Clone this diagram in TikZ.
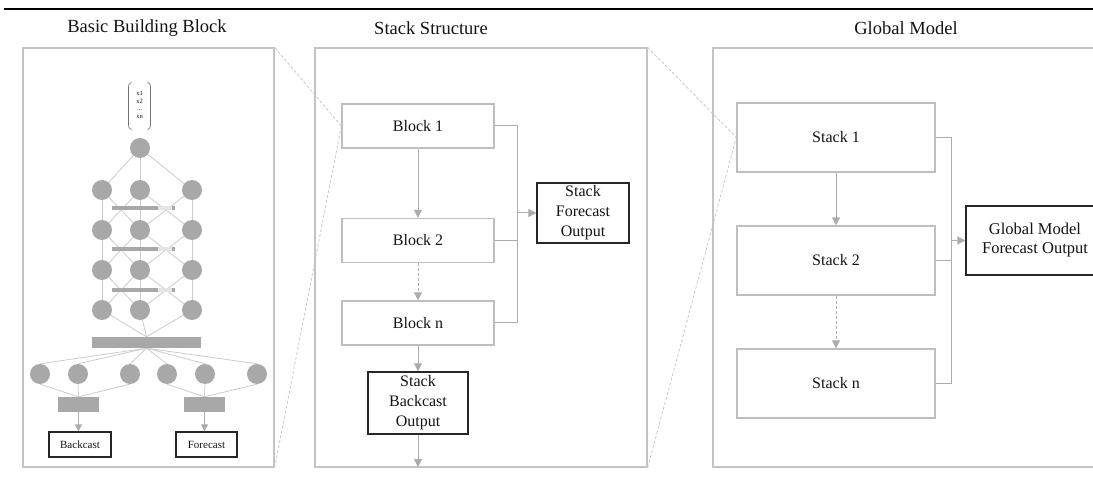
\documentclass[tikz,border=0pt]{standalone}
\usepackage{fontspec}
\setmainfont{Liberation Serif}
\usetikzlibrary{arrows.meta,calc}
\pgfdeclarelayer{back}
\pgfdeclarelayer{bg}
\pgfsetlayers{back,bg,main}
\definecolor{framec}{HTML}{C4C4C4}
\definecolor{boxc}{HTML}{BEBEBE}
\definecolor{arrc}{HTML}{ACACAC}
\definecolor{neuron}{HTML}{A8A8A8}
\definecolor{nnline}{HTML}{CCCCCC}
\definecolor{lightbar}{HTML}{E4E4E4}
\definecolor{txt}{HTML}{141414}
\tikzset{
  title/.style={font=\fontsize{18.5}{20}\selectfont, text=txt, inner sep=0},
  panel/.style={draw=framec, line width=1.3, minimum width=#1, minimum height=419, inner sep=0},
  blockbox/.style={draw=boxc, line width=1.4, minimum width=152, minimum height=44, inner sep=0, font=\fontsize{16}{19}\selectfont, text=txt},
  stackbox/.style={draw=boxc, line width=1.4, minimum width=198, minimum height=69, inner sep=0, font=\fontsize{16}{19}\selectfont, text=txt},
  outbox/.style={draw=black!85, line width=1.4, inner sep=0, align=center, text=txt},
  conn/.style={draw=arrc, line width=1},
  arrow/.style={conn, -{Triangle[length=8,width=8]}},
  darrow/.style={arrow, dash pattern=on 3 off 2},
  zoomline/.style={draw=framec, line width=0.7, dash pattern=on 3 off 2},
  neur/.style={circle, fill=neuron, minimum size=20, inner sep=0},
  nnl/.style={draw=nnline, line width=0.8},
  bar/.style={fill=neuron, inner sep=0},
  smallarrow/.style={draw=arrc, line width=1, -{Triangle[length=7,width=7]}},
}
\begin{document}
\begin{tikzpicture}[x=1pt,y=-1pt]
\clip (0,0) rectangle (1093,486);
\begin{pgfonlayer}{back}
\fill[white] (0,0) rectangle (1093,486);
\end{pgfonlayer}
% top rule
\draw[line width=1.7] (4,8.8) -- (1093,8.8);
\draw[line width=2.4] (4,9) -- (11,9);

% titles
\node[title] (t1) at (147,28) {Basic Building Block};
\node[title] (t2) at (431,28) {Stack Structure};
\node[title] (t3) at (906,28) {Global Model};

% panels
\node[panel=251] (p1) at (148.5,257.5) {};
\node[panel=332] (p2) at (481,257.5) {};
\node[panel=400] (p3) at (913,257.5) {};

% ---------- stack structure ----------
\node[blockbox] (b1) at (418,126) {Block 1};
\node[blockbox] (b2) at (418,240.5) {Block 2};
\node[blockbox] (bn) at (418,323) {Block n};
\node[outbox, minimum width=92, minimum height=60, font=\fontsize{16}{20}\selectfont] (sfo) at (583,213) {Stack\\Forecast\\Output};
\node[outbox, minimum width=100, minimum height=62, font=\fontsize{16}{20}\selectfont] (sbo) at (418,403) {Stack\\Backcast\\Output};
\coordinate (fx) at (517,126);
\coordinate (send) at (418,467);

\draw[arrow] (b1) -- (b2);
\draw[darrow] (b2) -- (bn);
\draw[arrow] (bn) -- (sbo);
\draw[arrow] (sbo) -- (send);
\draw[conn] (b1.east) -- (fx) |- (bn.east);
\draw[conn] (b2.east) -- (b2.east -| fx);
\draw[arrow] (fx |- sfo.west) -- (sfo.west);

% ---------- global model ----------
\node[stackbox] (s1) at (836,137.5) {Stack 1};
\node[stackbox] (s2) at (836,260.5) {Stack 2};
\node[stackbox] (sn) at (836,383.5) {Stack n};
\node[outbox, minimum width=138, minimum height=69, font=\fontsize{16.5}{19}\selectfont] (gm) at (1035,240.5) {Global Model\\Forecast Output};
\coordinate (gx) at (951,137.5);
\draw[arrow] (s1) -- (s2);
\draw[darrow] (s2) -- (sn);
\draw[conn] (s1.east) -- (gx) |- (sn.east);
\draw[conn] (s2.east) -- (s2.east -| gx);
\draw[arrow] (gx |- gm.west) -- (gm.west);

% zoom lines
\draw[zoomline] (p1.north east) -- (b1.west);
\draw[zoomline] (p1.south east) -- (b1.west);
\draw[zoomline] (p2.north east) -- (s1.west);
\draw[zoomline] (p2.south east) -- (s1.west);

% ---------- basic building block ----------
\node[inner sep=0, align=center, font=\fontsize{6.5}{7.6}\selectfont, text=txt] (vec) at (139.5,105) {x1\\x2\\...\\xn};
\draw[draw=black!55, line width=0.6] (131.5,82) .. controls (128.5,83) and (128.5,85) .. (128.5,90) -- (128.5,122) .. controls (128.5,127) and (128.5,129) .. (131.5,130);
\draw[draw=black!55, line width=0.6] (147.5,82) .. controls (150.5,83) and (150.5,85) .. (150.5,90) -- (150.5,122) .. controls (150.5,127) and (150.5,129) .. (147.5,130);

\node[neur] (c0) at (140,148) {};
\foreach \r/\y in {1/190,2/230,3/270,4/310}{
  \node[neur] (n\r a) at (102,\y) {};
  \node[neur] (n\r b) at (140,\y) {};
  \node[neur] (n\r c) at (192,\y) {};
}
% bars between layers
\foreach \k/\y in {1/208,2/249,3/290}{
  \node[bar, minimum width=46, minimum height=4] (bd\k) at (135,\y) {};
  \node[fill=lightbar, inner sep=0, minimum width=14, minimum height=4] (bl\k) at (165,\y) {};
  \node[bar, minimum width=3, minimum height=4] (be\k) at (173.5,\y) {};
}
\node[bar, minimum width=109, minimum height=11] (big) at (146.5,342.5) {};
\foreach \i/\x in {1/40,2/78,3/130,4/167,5/205,6/257}{
  \node[neur] (o\i) at (\x,374) {};
}
\node[bar, minimum width=41, minimum height=15] (lb) at (78.5,404.5) {};
\node[bar, minimum width=41, minimum height=15] (rb) at (204.5,404.5) {};
\node[outbox, line width=1.2, minimum width=62, minimum height=25, font=\fontsize{11}{13}\selectfont] (back) at (80,444.5) {Backcast};
\node[outbox, line width=1.2, minimum width=61, minimum height=25, font=\fontsize{11}{13}\selectfont] (fore) at (206.5,444.5) {Forecast};

\draw[smallarrow] (lb.south) -- (lb.south |- back.north);
\draw[smallarrow] (rb.south) -- (rb.south |- fore.north);

\begin{pgfonlayer}{bg}
  \foreach \j in {a,b,c}{ \draw[nnl] (c0.center) -- (n1\j.center); }
  \foreach \r/\s in {1/2,2/3,3/4}{
    \foreach \i/\j in {a/a,b/b,c/c,a/b,b/a,b/c,c/b}{
      \draw[nnl] (n\r\i.center) -- (n\s\j.center);
    }
  }
  \foreach \j in {a,b,c}{ \draw[nnl] (n4\j.center) -- (big.north); }
  \foreach \i in {1,...,6}{ \draw[nnl] (big.south) -- (o\i.north); }
  \foreach \i in {1,2,3}{ \draw[nnl] (o\i.south) -- (lb.north); }
  \foreach \i in {4,5,6}{ \draw[nnl] (o\i.south) -- (rb.north); }
\end{pgfonlayer}
\end{tikzpicture}
\end{document}
